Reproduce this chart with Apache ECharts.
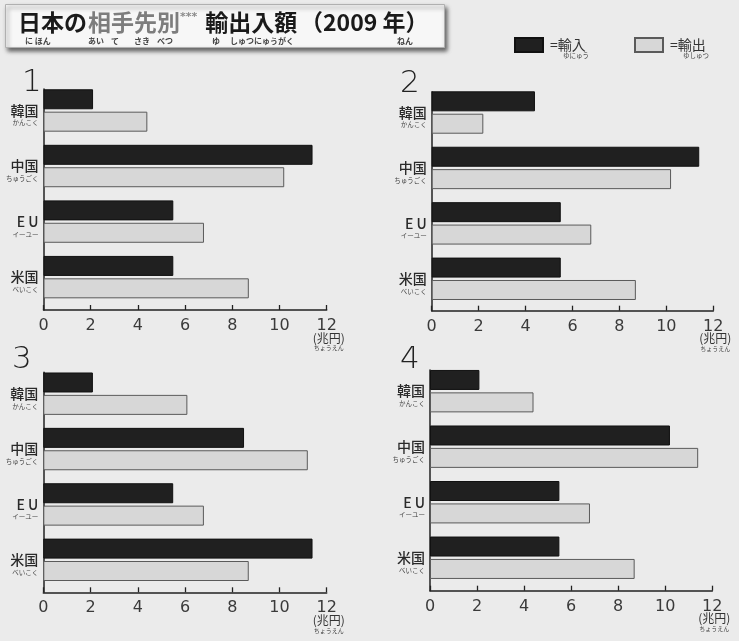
<!DOCTYPE html>
<html>
<head>
<meta charset="utf-8">
<script src="https://cdn.jsdelivr.net/npm/echarts@6/dist/echarts.min.js"></script>
<style>
html,body{margin:0;padding:0;background:#ebebeb;}
#chart{width:739px;height:641px;}
</style>
</head>
<body>
<div id="chart"></div>
<script>
// ---- data ----
const categories = ['韓国', '中国', 'E U', '米国'];
const categoryRuby = ['かんこく', 'ちゅうごく', 'イーユー', 'べいこく'];
const panelLabels = ['1', '2', '3', '4'];
const importValues1 = [2.1, 11.4, 5.5, 5.5];
const exportValues1 = [4.4, 10.2, 6.8, 8.7];
const importValues2 = [4.4, 11.4, 5.5, 5.5];
const exportValues2 = [2.2, 10.2, 6.8, 8.7];
const importValues3 = [2.1, 8.5, 5.5, 11.4];
const exportValues3 = [6.1, 11.2, 6.8, 8.7];
const importValues4 = [2.1, 10.2, 5.5, 5.5];
const exportValues4 = [4.4, 11.4, 6.8, 8.7];
const axisMin = 0;
const axisMax = 12;
const tickStep = 2;
const importName = '輸入';
const exportName = '輸出';
const importRuby = 'ゆにゅう';
const exportRuby = 'ゆしゅつ';
const unitLabel = '(兆円)';
const unitRuby = 'ちょうえん';

const importSets = [importValues1, importValues2, importValues3, importValues4];
const exportSets = [exportValues1, exportValues2, exportValues3, exportValues4];

// ---- layout ----
const barGrids = [
  {left: 43.5, top: 82.7, width: 283.2, height: 222.2},
  {left: 431.7, top: 84.8, width: 281.6, height: 221.7},
  {left: 43.3, top: 366.0, width: 283.4, height: 221.5},
  {left: 430, top: 363.4, width: 282.3, height: 222.1}
];
const axisGrids = [
  {left: 43.5, top: 89, width: 283.2, height: 221},
  {left: 431.7, top: 91.7, width: 281.6, height: 219},
  {left: 43.3, top: 372.3, width: 283.4, height: 220},
  {left: 430, top: 370, width: 282.3, height: 220.7}
];
const panelPos = [[22, 67], [400, 68], [12, 344], [400, 344]];

const CJK = '"Noto Sans CJK JP", "Noto Sans", sans-serif';
const NUM = '"DejaVu Sans", "Noto Sans", sans-serif';
const THIN = '"DejaVu Sans ExtraLight", "DejaVu Sans Light", Roboto, "DejaVu Sans", sans-serif';

const grids = [];
const xAxes = [];
const yAxes = [];
const series = [];

for (let i = 0; i < 4; i++) {
  grids.push(Object.assign({outerBoundsMode: 'none', containLabel: false}, barGrids[i]));
}
for (let i = 0; i < 4; i++) {
  grids.push(Object.assign({outerBoundsMode: 'none', containLabel: false}, axisGrids[i]));
}
// bar axes
for (let i = 0; i < 4; i++) {
  xAxes.push({gridIndex: i, type: 'value', min: axisMin, max: axisMax, interval: tickStep, show: false});
  yAxes.push({
    gridIndex: i, type: 'category', data: categories, inverse: true,
    axisLine: {show: false}, axisTick: {show: false}, splitLine: {show: false},
    axisLabel: {
      margin: 5,
      padding: [8, 0, 0, 0],
      formatter: function (v, idx) {
        return '{a|' + v + '}\n{f|' + categoryRuby[idx] + '}';
      },
      rich: {
        a: {fontSize: 14, lineHeight: 17, color: '#2a2a2a', fontFamily: CJK, fontWeight: 500},
        f: {fontSize: 6.5, lineHeight: 8, color: '#444', fontFamily: CJK}
      }
    }
  });
}
// visible axes
for (let i = 0; i < 4; i++) {
  xAxes.push({
    gridIndex: 4 + i, type: 'value', min: axisMin, max: axisMax, interval: tickStep,
    axisLine: {show: true, lineStyle: {color: '#222', width: 1.5}},
    axisTick: {show: true, inside: true, length: 5, lineStyle: {color: '#222', width: 1.3}},
    splitLine: {show: false},
    axisLabel: {fontSize: 16, color: '#3a3a3a', fontFamily: NUM, margin: 8},
    name: '{u|' + unitLabel + '}\n{f|' + unitRuby + '}',
    nameLocation: 'end',
    nameGap: 2,
    nameMoveOverlap: false,
    nameTextStyle: {
      align: 'center', verticalAlign: 'top', padding: [22, 0, 0, 0],
      rich: {
        u: {fontSize: 12, lineHeight: 12, color: '#333', fontFamily: CJK},
        f: {fontSize: 6, lineHeight: 8, color: '#444', fontFamily: CJK}
      }
    }
  });
  yAxes.push({
    gridIndex: 4 + i, type: 'category', data: categories, inverse: true,
    axisLine: {show: true, lineStyle: {color: '#222', width: 1.5}},
    axisTick: {show: false}, axisLabel: {show: false}, splitLine: {show: false}
  });
}
for (let i = 0; i < 4; i++) {
  series.push({
    type: 'bar', name: importName, xAxisIndex: i, yAxisIndex: i,
    data: importSets[i], barWidth: 20, barGap: '12%',
    itemStyle: {color: '#202020', borderColor: '#111', borderWidth: 1},
    emphasis: {disabled: true}, silent: true
  });
  series.push({
    type: 'bar', name: exportName, xAxisIndex: i, yAxisIndex: i,
    data: exportSets[i], barWidth: 20, barGap: '12%',
    itemStyle: {color: '#d7d7d7', borderColor: '#5a5a5a', borderWidth: 1},
    emphasis: {disabled: true}, silent: true
  });
}

const titles = [{
  left: 5, top: 4,
  padding: [4, 14, 3, 13],
  backgroundColor: '#f7f7f7',
  borderColor: '#b0b0b0', borderWidth: 1,
  shadowBlur: 4, shadowColor: 'rgba(0,0,0,0.55)', shadowOffsetX: 2, shadowOffsetY: 3,
  text: '{t1|日本の}{t2|相手先別}{t3|***}{t4| 輸出入額}{t5|（2009 年）}\n' +
        '{s7| }{r63|に ほん}{r23|あい}{r23|て}{r23|さき}{r43|べつ}{s12| }{r18|ゆ}{r167|しゅつにゅうがく}{r34|ねん}',
  textStyle: {
    rich: {
      t1: {fontSize: 23, fontWeight: 'bold', color: '#1a1a1a', fontFamily: CJK, width: 70, lineHeight: 28},
      t2: {fontSize: 23, fontWeight: 'bold', color: '#7d7d7d', fontFamily: CJK, width: 92, lineHeight: 28},
      t3: {fontSize: 11, color: '#8a8a8a', fontFamily: NUM, width: 20, lineHeight: 28, verticalAlign: 'top', padding: [4, 0, 0, 0]},
      t4: {fontSize: 23, fontWeight: 'bold', color: '#1a1a1a', fontFamily: CJK, width: 100, lineHeight: 28},
      t5: {fontSize: 23, fontWeight: 'bold', color: '#1a1a1a', fontFamily: CJK, width: 131, lineHeight: 28},
      s7: {fontSize: 8, width: 7, lineHeight: 10},
      s12: {fontSize: 8, width: 12, lineHeight: 10},
      r63: {fontSize: 8, width: 63, lineHeight: 10, color: '#444', fontFamily: CJK},
      r23: {fontSize: 8, width: 23, lineHeight: 10, color: '#444', fontFamily: CJK},
      r43: {fontSize: 8, width: 43, lineHeight: 10, color: '#444', fontFamily: CJK},
      r18: {fontSize: 8, width: 18, lineHeight: 10, color: '#444', fontFamily: CJK},
      r167: {fontSize: 8, width: 167, lineHeight: 10, color: '#444', fontFamily: CJK},
      r34: {fontSize: 8, width: 34, lineHeight: 10, color: '#444', fontFamily: CJK}
    }
  }
}];
for (let i = 0; i < 4; i++) {
  titles.push({
    text: panelLabels[i], left: panelPos[i][0], top: panelPos[i][1], padding: 0,
    textStyle: {fontSize: 31, fontWeight: 'normal', color: '#222', fontFamily: THIN}
  });
}

function legendFor(name, ruby, left) {
  return {
    data: [name], left: left, top: 37, padding: 0,
    icon: 'rect', itemWidth: 28, itemHeight: 14, selectedMode: false,
    formatter: function (n) { return '{a|=' + n + '}\n{f|' + ruby + '}'; },
    textStyle: {
      padding: [8, 0, 0, 2],
      rich: {
        a: {fontSize: 14, lineHeight: 14, color: '#333', fontFamily: CJK},
        f: {fontSize: 6.5, lineHeight: 8, color: '#444', fontFamily: CJK, padding: [0, 0, 0, 13]}
      }
    }
  };
}

const chart = echarts.init(document.getElementById('chart'), null, {renderer: 'canvas'});
chart.setOption({
  backgroundColor: '#ebebeb',
  animation: false,
  title: titles,
  legend: [legendFor(importName, importRuby, 514), legendFor(exportName, exportRuby, 634)],
  grid: grids,
  xAxis: xAxes,
  yAxis: yAxes,
  series: series
});
</script>
</body>
</html>
